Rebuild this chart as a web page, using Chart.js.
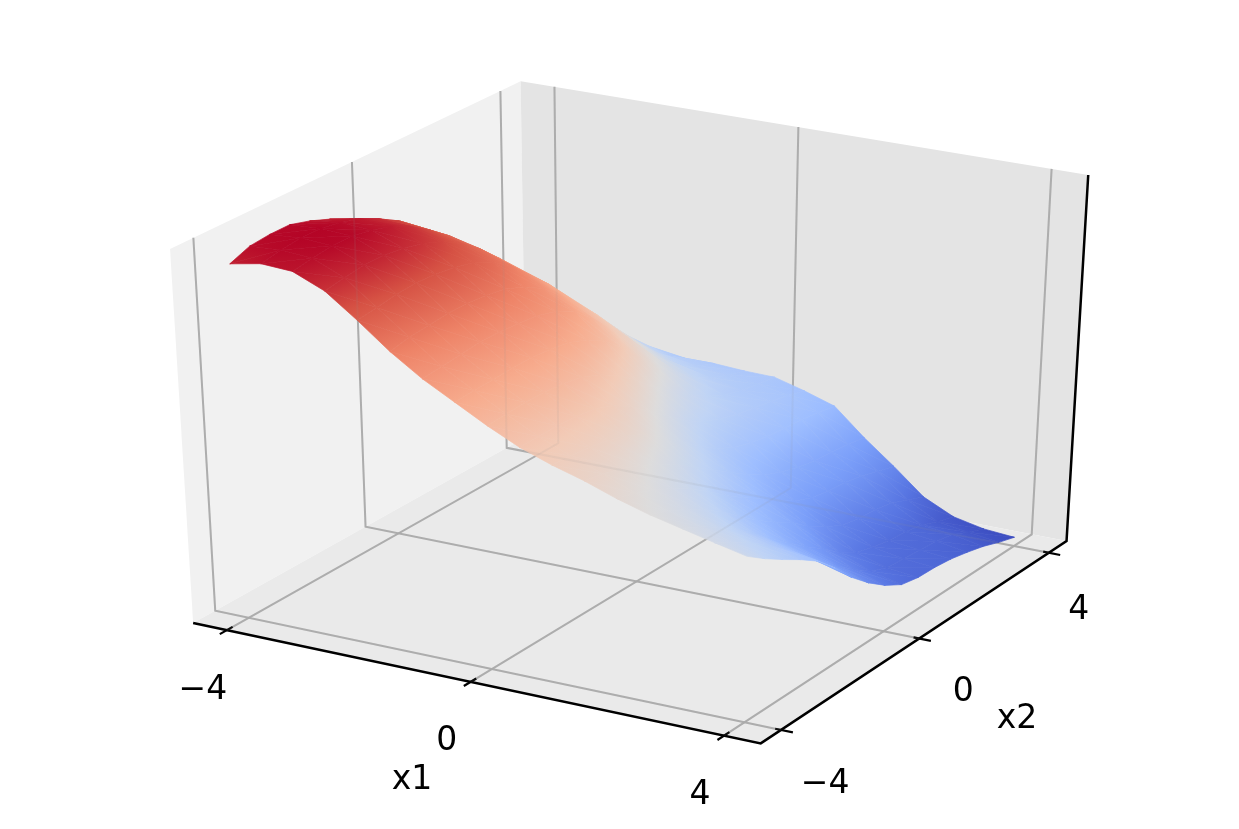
<!DOCTYPE html>
<html><head><meta charset="utf-8">
<style>html,body{margin:0;padding:0;background:#fff}canvas{display:block}</style>
<script src="https://cdn.jsdelivr.net/npm/chart.js@4"></script></head>
<body><canvas id="c" width="1239" height="829"></canvas>
<script>
const x1Values=[-4,-3.5,-3,-2.5,-2,-1.5,-1,-0.5,0,0.5,1,1.5,2,2.5,3,3.5,4];
const x2Values=[-4,-3.5,-3,-2.5,-2,-1.5,-1,-0.5,0,0.5,1,1.5,2,2.5,3,3.5,4];
const tickValues=[-4,0,4];
const tickLabels=['\u22124','0','4'];
const axisTitles=['x1','x2'];
// surface height (percent of the z-axis box); one row per x1, one column per x2
const zRow01=[95,97,97.5,97.5,96,94,91.5,88,84,79,74,69,64.5,60,56,52,48];
const zRow02=[96.5,97.5,98,98,97,95.5,93,90,86,81,75.5,70,65,60,55,50,45];
const zRow03=[96,96.8,97.5,97.5,96.5,95,92.5,89,85,80,74.5,69,63.5,58,52.5,47,42];
const zRow04=[92.5,93.3,94,94,93.3,92,90,87,83,78,72.5,67,61,55,49.5,44,38.5];
const zRow05=[86.5,87.2,88,88.3,88,87.2,86,83.5,80,75,70,64,58,52,46.5,41,36];
const zRow06=[80,81,81.5,82,82,81.5,80.5,78.5,75.5,71,66,60.5,54.5,48.5,43,39,35.5];
const zRow07=[74.5,75,75.5,76,76,75.5,75,73.5,71,66.5,61,56,50,45,40.5,37.5,35.5];
const zRow08=[70,70.3,70.5,70.8,70.8,70.3,69.5,67.5,64.5,60,55,50,45.5,41.5,38.5,36.5,35];
const zRow09=[65.5,65.8,66,66,65.5,64.5,62.5,59.5,55.5,51,47,43.5,40.5,38,36.5,35.5,34.8];
const zRow10=[61.5,61.5,61.5,61.2,60.5,58.5,55.5,51.5,47.5,43.5,40.5,38.5,37,36,35,34,32.5];
const zRow11=[58.5,58,57.5,56.5,55,52.5,49,45,41,37.5,35,33.5,32.5,32,31.5,30.8,29.8];
const zRow12=[56,55,53.5,51.5,49,46,42.5,39,35.5,32,29,27,25.5,24.5,24,23.5,22.5];
const zRow13=[53,51.5,49.5,47,44,40.5,36.5,33,30,26.5,23.5,21.5,20.5,20,19,17.5,16];
const zRow14=[50.5,48.5,46,43,39.5,35.5,31.5,28,25,21,18,15.5,14.5,14,13,11,9];
const zRow15=[48.5,46,43,39.5,35.5,31,27,23,19.5,15.5,12.5,11,10,9.5,8.5,6.5,5];
const zRow16=[46.5,43.5,40.5,37,33,28.5,24,19.5,15.5,12,10,9.5,9,8.5,7.5,5.2,3.2];
const zRow17=[44.6,41,37.8,34.8,31.4,26.5,21,16.5,12.8,10,9,8.8,8.2,7.1,5.8,4,2.5];
const zRows=[zRow01,zRow02,zRow03,zRow04,zRow05,zRow06,zRow07,zRow08,zRow09,zRow10,zRow11,zRow12,zRow13,zRow14,zRow15,zRow16,zRow17];

// view (elevation 30, azimuth -60, camera distance 10)
const U=[0.866,0.5,0],V=[-0.25,0.433,0.866],W=[0.433,-0.75,0.5];
const dot=(a,b)=>a[0]*b[0]+a[1]*b[1]+a[2]*b[2];
function proj(a,b,c){const d=[a-.5,b-.5,c-.5],w=10-dot(W,d);
  return {x:636.6+6552*dot(U,d)/w,y:401-4270*dot(V,d)/w};}
const tOf=v=>0.5+v*0.1095, zOf=v=>v/100;
const P=(x1,x2,z)=>proj(tOf(x1),tOf(x2),zOf(z));

const cmStops=['#3b4cc0','#5977e3','#7b9ff9','#9ebeff','#c0d4f5','#dddcdc','#f2cbb7','#f7ac8e','#ee8468','#d65244','#b40426'];
const zMin=2.5,zMax=98;
const norm=z=>Math.max(0,Math.min(1,(z-zMin)/(zMax-zMin)));
function hex(c){return [1,3,5].map(i=>parseInt(c.substr(i,2),16));}
function cmap(v){const f=v*10,i=Math.min(9,Math.floor(f)),k=f-i,a=hex(cmStops[i]),b=hex(cmStops[i+1]);
  return `rgb(${a.map((p,j)=>Math.round(p+(b[j]-p)*k)).join(',')})`;}
const helper=document.createElement('canvas').getContext('2d');
function triPaint(p,z){
  const v=z.map(norm);
  const dx1=p[1].x-p[0].x,dy1=p[1].y-p[0].y,dx2=p[2].x-p[0].x,dy2=p[2].y-p[0].y,dv1=v[1]-v[0],dv2=v[2]-v[0];
  const det=dx1*dy2-dx2*dy1;
  const lo=Math.min(...v),hi=Math.max(...v);
  if(Math.abs(det)<1e-6||hi-lo<1e-4) return cmap((lo+hi)/2);
  const gx=(dv1*dy2-dv2*dy1)/det,gy=(dx1*dv2-dx2*dv1)/det,g2=gx*gx+gy*gy;
  const i=v.indexOf(lo),span=(hi-lo)/g2;
  const g=helper.createLinearGradient(p[i].x,p[i].y,p[i].x+gx*span,p[i].y+gy*span);
  g.addColorStop(0,cmap(lo));
  for(let s=Math.ceil(lo*10+1e-6);s<hi*10;s++) g.addColorStop((s/10-lo)/(hi-lo),cmStops[s]);
  g.addColorStop(1,cmap(hi));
  return g;
}
const ds=[];
const grey='#b0b0b0';
function line(pts,color,width){ds.push({data:pts,showLine:true,fill:false,borderColor:color,borderWidth:width,pointRadius:0,clip:false});}
function poly(pts,color){ds.push({data:pts.concat([pts[0]]),showLine:true,fill:'shape',backgroundColor:color,borderColor:color,borderWidth:0,pointRadius:0,clip:false});}
// panes
poly([proj(0,0,0),proj(0,1,0),proj(0,1,1),proj(0,0,1)],'#f1f1f1');
poly([proj(0,1,0),proj(1,1,0),proj(1,1,1),proj(0,1,1)],'#e4e4e4');
poly([proj(0,0,0),proj(1,0,0),proj(1,1,0),proj(0,1,0)],'#eaeaea');
// grid
function gridLines(col,w){
  tickValues.forEach(v=>{const t=tOf(v);
    line([proj(t,0,0),proj(t,1,0),proj(t,1,1)],col,w);
    line([proj(1,t,0),proj(0,t,0),proj(0,t,1)],col,w);});
}
gridLines(grey,2);
// axes
line([proj(0,0,0),proj(1,0,0),proj(1,1,0),proj(1,1,1)],'#000',2.5);
tickValues.forEach(v=>{const t=tOf(v);
  line([proj(t,-0.02,0),proj(t,0.016,0)],'#000',2.2);
  line([proj(0.99,t,0),proj(1.02,t,0)],'#000',2.2);});
// surface: far cells first
const cells=[];
for(let i=0;i<x1Values.length-1;i++)for(let j=x2Values.length-2;j>=0;j--){
  const a=[i,j],b=[i+1,j],c=[i+1,j+1],d=[i,j+1];
  const mk=q=>q.map(k=>({p:P(x1Values[k[0]],x2Values[k[1]],zRows[k[0]][k[1]]),z:zRows[k[0]][k[1]]}));
  cells.push(mk([a,c,d]),mk([a,b,c]));
}
cells.forEach(tr=>{
  const pts=tr.map(o=>o.p),paint=triPaint(pts,tr.map(o=>o.z));
  ds.push({data:pts.concat([pts[0]]),showLine:true,fill:'shape',backgroundColor:paint,borderColor:paint,borderWidth:0.7,pointRadius:0,clip:false});
});
// grid faintly through the translucent surface
gridLines('rgba(150,150,150,0.10)',2);
ds.forEach((d,i)=>{d.order=ds.length-i;d.tension=0;});

const labelPlugin={id:'labels',afterDraw(ch){
  const c=ch.ctx;c.save();c.fillStyle='#000';c.font='33px "DejaVu Sans"';c.textAlign='center';c.textBaseline='middle';
  tickValues.forEach((v,i)=>{const t=tOf(v);
    const a=proj(t,0,0);c.fillText(tickLabels[i],a.x-24,a.y+60);
    const b=proj(1,t,0);c.fillText(tickLabels[i],b.x+(i==2?30:44),b.y+(i==2?58:54));});
  c.fillText(axisTitles[0],412,780);c.fillText(axisTitles[1],1017,719);
  c.restore();}};
new Chart(document.getElementById('c'),{type:'scatter',data:{datasets:ds},plugins:[labelPlugin],
 options:{responsive:false,animation:false,events:[],layout:{padding:0},
  plugins:{legend:{display:false},tooltip:{enabled:false}},
  scales:{x:{type:'linear',min:0,max:1239,display:false},y:{type:'linear',min:0,max:829,reverse:true,display:false}}}});
</script></body></html>
